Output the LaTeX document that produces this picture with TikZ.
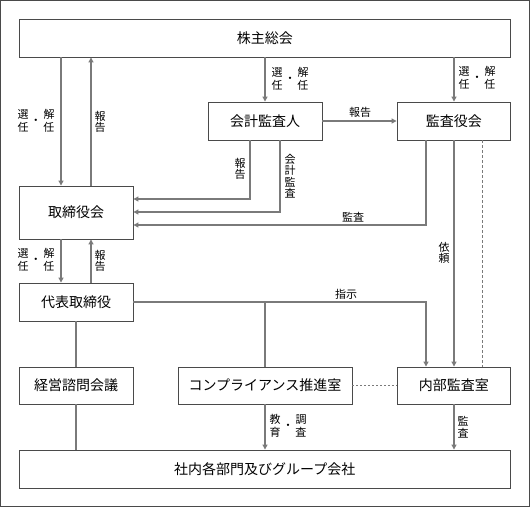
\documentclass[tikz,border=0pt]{standalone}
\usepackage{fontspec}
\newfontfamily\jp{Noto Sans CJK JP}
\usetikzlibrary{arrows.meta}
\definecolor{boxline}{HTML}{4A4A4A}
\definecolor{conn}{HTML}{7A7A7A}
\newcommand\labfont{\jp\fontsize{11}{11.5}\selectfont}
\newcommand\pair[4]{{\setlength{\tabcolsep}{1pt}\renewcommand{\arraystretch}{1}\begin{tabular}{@{}c c c@{}}#1 & \raisebox{-5.75pt}[0pt][0pt]{・} & #3\\#2 & & #4\end{tabular}}}
\tikzset{
  box/.style={draw=boxline, line width=0.9pt, fill=white, inner sep=0pt,
    font=\jp\fontsize{14}{16}\selectfont, text=black},
  conn/.style={draw=conn, line width=1.1pt},
  arr/.style={conn, -{Triangle[length=5pt,width=5pt]}},
  lab/.style={font=\labfont, align=center, inner sep=0pt, text=black},
  dashline/.style={conn, line width=0.9pt, dash pattern=on 3pt off 2pt},
  dotline/.style={conn, line width=0.9pt, dash pattern=on 2pt off 2pt},
}
\begin{document}
\begin{tikzpicture}[x=1pt,y=-1pt]
\useasboundingbox (0,0) rectangle (530,507);
\draw[boxline, line width=1pt] (0.5,0.5) rectangle (529.5,506.5);
% boxes
\node[box, minimum width=491.5pt, minimum height=38pt] (soukai) at (264.75,38) {株主総会};
\node[box, minimum width=114pt, minimum height=53pt] (tori) at (76,212.5) {取締役会};
\node[box, minimum width=114pt, minimum height=38pt] (kaikei) at (265,121) {会計監査人};
\node[box, minimum width=113.5pt, minimum height=38pt] (kansa) at (453.75,121) {監査役会};
\node[box, minimum width=114pt, minimum height=38pt] (daihyo) at (76,302) {代表取締役};
\node[box, minimum width=114pt, minimum height=37pt] (keiei) at (76,385.5) {経営諮問会議};
\node[box, minimum width=174pt, minimum height=37pt] (comp) at (265,385.5) {コンプライアンス推進室};
\node[box, minimum width=113.5pt, minimum height=37pt] (naibu) at (453.75,385.5) {内部監査室};
\node[box, minimum width=491.5pt, minimum height=38pt] (shanai) at (264.75,469) {社内各部門及びグループ会社};
% connectors
\draw[arr] (soukai.south -| 61,0) -- (tori.north -| 61,0);
\draw[arr] (tori.north -| 91,0) -- (soukai.south -| 91,0);
\draw[arr] (soukai.south -| 265,0) -- (kaikei.north -| 265,0);
\draw[arr] (soukai.south -| 454,0) -- (kansa.north -| 454,0);
\draw[arr] (kaikei.east) -- (kansa.west);
\draw[arr] (kaikei.south -| 250,0) -- (250,199) -- (tori.east |- 0,199);
\draw[arr] (kaikei.south -| 280,0) -- (280,212) -- (tori.east |- 0,212);
\draw[arr] (kansa.south -| 426,0) -- (426,225) -- (tori.east |- 0,225);
\draw[arr] (kansa.south -| 454,0) -- (naibu.north -| 454,0);
\draw[dashline] (kansa.south -| 482,0) -- (naibu.north -| 482,0);
\draw[arr] (tori.south -| 61,0) -- (daihyo.north -| 61,0);
\draw[arr] (daihyo.north -| 91,0) -- (tori.south -| 91,0);
\draw[arr] (daihyo.east) -- (426,302) -- (naibu.north -| 426,0);
\coordinate (junc) at (265,302);
\draw[conn] (junc) -- (comp.north);
\draw[conn] (daihyo.south) -- (keiei.north);
\draw[conn] (keiei.south) -- (shanai.north -| keiei.south);
\draw[arr] (comp.south) -- (shanai.north -| comp.south);
\draw[dotline] (comp.east) -- (naibu.west);
\draw[arr] (naibu.south -| 454,0) -- (shanai.north -| 454,0);
% labels
\node[lab] (l1) at (36,122) {\pair{選}{任}{解}{任}};
\node[lab] (l2) at (100,122) {報\\告};
\node[lab] (l3) at (290,80) {\pair{選}{任}{解}{任}};
\node[lab] (l4) at (477,79) {\pair{選}{任}{解}{任}};
\node[lab] (l5) at (360,112) {報告};
\node[lab] (l6) at (240,169) {報\\告};
\node[lab] (l7) at (290,176) {会\\計\\監\\査};
\node[lab] (l8) at (353,217) {監査};
\node[lab] (l9) at (444,253) {依\\頼};
\node[lab] (l10) at (36,261) {\pair{選}{任}{解}{任}};
\node[lab] (l11) at (100,261) {報\\告};
\node[lab] (l12) at (346,294) {指示};
\node[lab] (l13) at (288,427) {\pair{教}{育}{調}{査}};
\node[lab] (l14) at (463,427) {監\\査};
\end{tikzpicture}
\end{document}
